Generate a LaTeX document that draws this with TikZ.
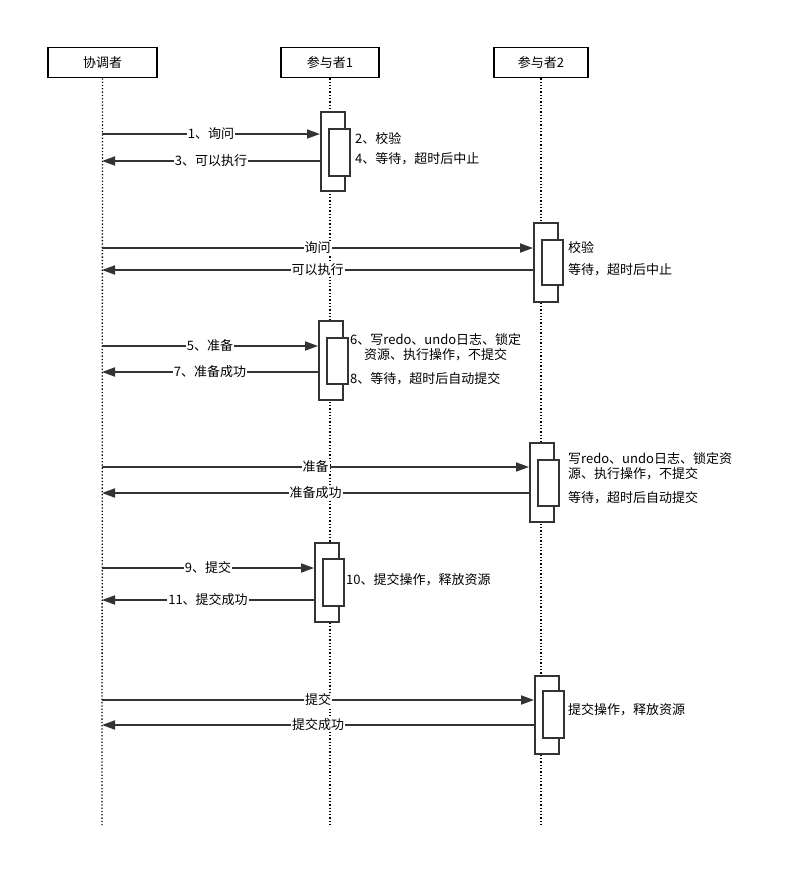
\documentclass[tikz,border=0pt]{standalone}
\usepackage{fontspec}
\newfontfamily\cjk{Noto Sans CJK SC}
\usetikzlibrary{arrows.meta}
\definecolor{ink}{HTML}{333333}
\begin{document}
\begin{tikzpicture}[x=1pt,y=-1pt,
  font=\cjk\fontsize{13}{15.5}\selectfont,
  head/.style={draw=black,line width=1.5pt,minimum width=109,minimum height=30,inner sep=0pt,fill=white},
  lifeline/.style={draw=black,line width=1.3pt,dotted},
  act/.style={draw=ink,line width=1.8pt,fill=white,inner sep=0pt,anchor=north west},
  msg/.style={draw=ink,line width=1.8pt,-{Triangle[length=13pt,width=9pt]}},
  lbl/.style={fill=white,inner sep=1pt,text=black},
  note/.style={anchor=west,inner sep=0pt,text=black,align=left}]
\useasboundingbox[fill=white] (0,0) rectangle (803,887);

% heads
\node[head] (h1) at (102.5,62.5) {协调者};
\node[head,minimum width=98] (h2) at (330,62.5) {参与者1};
\node[head,minimum width=94] (h3) at (541,62.5) {参与者2};
\coordinate (e1) at (102,825);
\coordinate (e2) at (330,825);
\coordinate (e3) at (541,825);
\draw[lifeline] (h1.south) -- (e1);
\draw[lifeline] (h2.south) -- (e2);
\draw[lifeline] (h3.south) -- (e3);

% ---- block 1 (P1)
\node[act,minimum width=24,minimum height=79] (a1) at (320,111) {};
\node[act,minimum width=21,minimum height=47] (b1) at (328,128) {};
\coordinate (l1) at (102,134);
\coordinate (r1) at (102,161);
\draw[msg] (l1) -- (l1 -| a1.west) node[lbl,midway] {1、询问};
\draw[msg] (r1 -| a1.west) -- (r1) node[lbl,midway] {3、可以执行};
\node[note] (n1a) at (355,139) {2、校验};
\node[note] (n1b) at (355,159) {4、等待，超时后中止};

% ---- block 2 (P2)
\node[act,minimum width=24,minimum height=79] (a2) at (533,222) {};
\node[act,minimum width=21,minimum height=45] (b2) at (541,239) {};
\coordinate (l2) at (102,248);
\coordinate (r2) at (102,270);
\draw[msg] (l2) -- (l2 -| a2.west) node[lbl,midway] {询问};
\draw[msg] (r2 -| a2.west) -- (r2) node[lbl,midway] {可以执行};
\node[note] (n2a) at (568,248) {校验};
\node[note] (n2b) at (568,270) {等待，超时后中止};

% ---- block 3 (P1)
\node[act,minimum width=24,minimum height=79] (a3) at (318,320) {};
\node[act,minimum width=21,minimum height=46] (b3) at (326,337) {};
\coordinate (l3) at (102,346);
\coordinate (r3) at (102,372);
\draw[msg] (l3) -- (l3 -| a3.west) node[lbl,midway] {5、准备};
\draw[msg] (r3 -| a3.west) -- (r3) node[lbl,midway] {7、准备成功};
\node[note,align=center,anchor=north west] (n3a) at (350,333) {6、写redo、undo日志、锁定\\资源、执行操作，不提交};
\node[note] (n3b) at (350,379) {8、等待，超时后自动提交};

% ---- block 4 (P2)
\node[act,minimum width=24,minimum height=79] (a4) at (529,442) {};
\node[act,minimum width=21,minimum height=46] (b4) at (537,459) {};
\coordinate (l4) at (102,467);
\coordinate (r4) at (102,493);
\draw[msg] (l4) -- (l4 -| a4.west) node[lbl,midway] {准备};
\draw[msg] (r4 -| a4.west) -- (r4) node[lbl,midway] {准备成功};
\node[note,anchor=north west] (n4a) at (568,452) {写redo、undo日志、锁定资\\源、执行操作，不提交};
\node[note] (n4b) at (568,498) {等待，超时后自动提交};

% ---- block 5 (P1)
\node[act,minimum width=24,minimum height=79] (a5) at (314,542) {};
\node[act,minimum width=21,minimum height=47] (b5) at (322,558) {};
\coordinate (l5) at (102,568);
\coordinate (r5) at (102,600);
\draw[msg] (l5) -- (l5 -| a5.west) node[lbl,midway] {9、提交};
\draw[msg] (r5 -| a5.west) -- (r5) node[lbl,midway] {11、提交成功};
\node[note] (n5a) at (346,580) {10、提交操作，释放资源};

% ---- block 6 (P2)
\node[act,minimum width=24,minimum height=78] (a6) at (534,675) {};
\node[act,minimum width=21,minimum height=47] (b6) at (542,690) {};
\coordinate (l6) at (102,700);
\coordinate (r6) at (102,725);
\draw[msg] (l6) -- (l6 -| a6.west) node[lbl,midway] {提交};
\draw[msg] (r6 -| a6.west) -- (r6) node[lbl,midway] {提交成功};
\node[note] (n6a) at (568,710) {提交操作，释放资源};
\end{tikzpicture}
\end{document}
